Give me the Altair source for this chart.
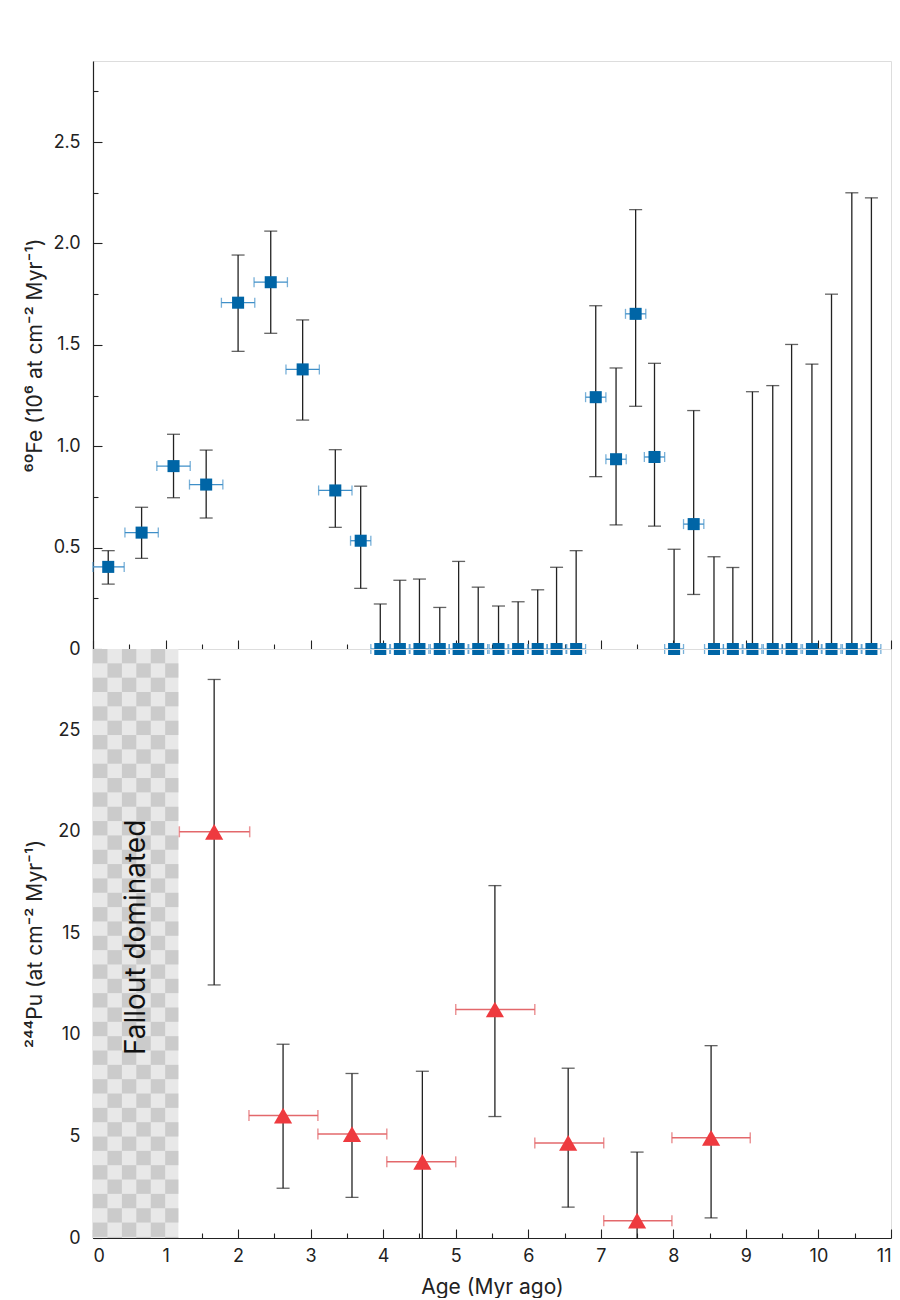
import altair as alt
import pandas as pd
import numpy as np

# ---------------- data: 60Fe (top panel) ----------------
fe_age = [0.21, 0.67, 1.11, 1.56, 2.00, 2.45, 2.89, 3.34, 3.69,
          3.96, 4.23, 4.50, 4.78, 5.04, 5.31, 5.59, 5.86, 6.13, 6.39, 6.66,
          6.93, 7.21, 7.48, 7.74, 8.01, 8.28,
          8.56, 8.82, 9.09, 9.37, 9.63, 9.91, 10.18, 10.46, 10.73]
fe_val = [0.405, 0.574, 0.902, 0.811, 1.708, 1.809, 1.379, 0.782, 0.534,
          0, 0, 0, 0, 0, 0, 0, 0, 0, 0, 0,
          1.242, 0.936, 1.653, 0.947, 0, 0.616,
          0, 0, 0, 0, 0, 0, 0, 0, 0]
fe_lo = [0.320, 0.447, 0.746, 0.646, 1.468, 1.557, 1.129, 0.600, 0.299,
         0, 0, 0, 0, 0, 0, 0, 0, 0, 0, 0,
         0.850, 0.612, 1.197, 0.606, 0, 0.269,
         0, 0, 0, 0, 0, 0, 0, 0, 0]
fe_hi = [0.485, 0.699, 1.059, 0.981, 1.943, 2.061, 1.623, 0.983, 0.803,
         0.222, 0.339, 0.345, 0.205, 0.432, 0.305, 0.212, 0.233, 0.292, 0.403, 0.485,
         1.693, 1.386, 2.167, 1.409, 0.492, 1.176,
         0.455, 0.402, 1.269, 1.299, 1.502, 1.405, 1.750, 2.250, 2.225]
fe_xerr = [0.22, 0.23, 0.23, 0.23, 0.23, 0.23, 0.23, 0.23, 0.14,
           0.13, 0.13, 0.13, 0.13, 0.13, 0.13, 0.13, 0.13, 0.13, 0.13, 0.13,
           0.14, 0.14, 0.14, 0.14, 0.13, 0.14,
           0.13, 0.13, 0.13, 0.13, 0.13, 0.13, 0.13, 0.13, 0.13]

# ---------------- data: 244Pu (bottom panel) ----------------
pu_age = [1.67, 2.62, 3.57, 4.54, 5.54, 6.55, 7.50, 8.52]
pu_val = [20.0, 6.03, 5.12, 3.75, 11.25, 4.68, 0.85, 4.93]
pu_lo = [12.46, 2.45, 2.00, 0.00, 5.98, 1.52, 0.00, 0.99]
pu_hi = [27.5, 9.54, 8.10, 8.21, 17.35, 8.36, 4.23, 9.47]
pu_xlo = [1.19, 2.15, 3.10, 4.05, 5.00, 6.09, 7.04, 7.98]
pu_xhi = [2.16, 3.10, 4.05, 5.00, 6.09, 7.04, 7.98, 9.06]

# axis tick values
x_ticks = [i * 0.5 for i in range(23)]
fe_yticks = [i * 0.25 for i in range(12)]
pu_yticks = [i * 2.5 for i in range(12)]

fallout_end = 1.177
fallout_label = "Fallout dominated"

FONT = "Inter"
BLUE = "#0065a6"
LBLUE = "#3f8fc8"
RED = "#ee3a3f"
LRED = "#e3686b"
INK = "#222222"

W, H_TOP, H_BOT = 798, 588, 589
X_MAX, FE_MAX, PU_MAX = 11, 2.9, 29.0

fe = pd.DataFrame({"age": fe_age, "val": fe_val, "lo": fe_lo, "hi": fe_hi, "xerr": fe_xerr})
fe["xlo"] = (fe["age"] - fe["xerr"]).clip(lower=0)
fe["xhi"] = fe["age"] + fe["xerr"]
pu = pd.DataFrame({"age": pu_age, "val": pu_val, "lo": pu_lo, "hi": pu_hi,
                   "xlo": pu_xlo, "xhi": pu_xhi})

xscale = alt.Scale(domain=[0, X_MAX], nice=False, zero=False)
fe_scale = alt.Scale(domain=[0, FE_MAX], nice=False)
pu_scale = alt.Scale(domain=[0, PU_MAX], nice=False)

def tsize(step):
    return {"condition": {"test": f"abs(datum.value/{step} - round(datum.value/{step})) < 1e-6",
                          "value": -9}, "value": -5}

common_axis = dict(grid=False, domainColor=INK, domainWidth=1.2, tickColor=INK, tickWidth=1.1,
                   labelFont=FONT, labelFontSize=18, labelColor=INK,
                   titleFont=FONT, titleFontSize=21, titleFontWeight="normal", titleColor=INK)

x_top_axis = alt.Axis(values=x_ticks, labels=False, title=None, tickSize=tsize(1), **common_axis)
x_bot_axis = alt.Axis(values=x_ticks, title="Age (Myr ago)", tickSize=tsize(1),
                      labelExpr="datum.value % 1 == 0 ? datum.value : ''",
                      labelPadding=18, titleY=49, titleBaseline="middle", **common_axis)
fe_axis = alt.Axis(values=fe_yticks, tickSize=tsize(0.5), title="⁶⁰Fe (10⁶ at cm⁻² Myr⁻¹)",
                   labelExpr="datum.value == 0 ? '0' : (abs(datum.value*2 - round(datum.value*2)) < 1e-6 ? format(datum.value, '.1f') : '')",
                   labelPadding=22, titleX=-58, titleY=H_TOP / 2, titleBaseline="middle",
                   titleAngle=270, **common_axis)
pu_axis = alt.Axis(values=pu_yticks, tickSize=tsize(5), title="²⁴⁴Pu (at cm⁻² Myr⁻¹)",
                   labelExpr="datum.value % 5 == 0 ? datum.value : ''",
                   labelPadding=22, titleX=-58, titleY=H_BOT / 2, titleBaseline="middle",
                   titleAngle=270, **common_axis)

# ---------------- top panel ----------------
fb = alt.Chart(fe)
X = lambda f: alt.X(f"{f}:Q", scale=xscale, axis=x_top_axis)
Yf = lambda f: alt.Y(f"{f}:Q", scale=fe_scale, axis=fe_axis)

top = alt.layer(
    fb.mark_rule(color=LBLUE, strokeWidth=1.3).encode(x=X("xlo"), x2="xhi", y=Yf("val")),
    fb.mark_tick(orient="vertical", color=LBLUE, size=10, thickness=1.3).encode(x=X("xlo"), y=Yf("val")),
    fb.mark_tick(orient="vertical", color=LBLUE, size=10, thickness=1.3).encode(x=X("xhi"), y=Yf("val")),
    fb.mark_rule(color=INK, strokeWidth=1.3).encode(x=X("age"), y=Yf("lo"), y2="hi"),
    fb.mark_tick(orient="horizontal", color=INK, size=13, thickness=1.3).encode(x=X("age"), y=Yf("hi")),
    fb.transform_filter("datum.val > 0").mark_tick(orient="horizontal", color=INK, size=13, thickness=1.3).encode(x=X("age"), y=Yf("lo")),
    fb.mark_point(shape="square", filled=True, size=145, color=BLUE, opacity=1).encode(x=X("age"), y=Yf("val")),
).properties(width=W, height=H_TOP)

# ---------------- bottom panel ----------------
# checkerboard pattern for the fallout-dominated band
cw, ch = 0.199, 0.706
cells = []
nx = int(np.ceil(fallout_end / cw))
ny = int(np.ceil(PU_MAX / ch))
for i in range(nx):
    for j in range(ny):
        if (i + j) % 2 == 0:
            cells.append({"x": i * cw, "x2": min((i + 1) * cw, fallout_end),
                          "y": PU_MAX - j * ch, "y2": max(PU_MAX - (j + 1) * ch, 0)})
cells = pd.DataFrame(cells)
band = pd.DataFrame({"x": [0], "x2": [fallout_end], "y": [0], "y2": [PU_MAX]})
lab = pd.DataFrame({"x": [fallout_end / 2 + 0.02], "y": [14.8], "t": [fallout_label]})

Xb = lambda f: alt.X(f"{f}:Q", scale=xscale, axis=x_bot_axis)
Yp = lambda f: alt.Y(f"{f}:Q", scale=pu_scale, axis=pu_axis)
pb = alt.Chart(pu)

bot = alt.layer(
    alt.Chart(band).mark_rect(color="#e8e8e8").encode(x=Xb("x"), x2="x2", y=Yp("y"), y2="y2"),
    alt.Chart(cells).mark_rect(color="#cbcbcb").encode(x=Xb("x"), x2="x2", y=Yp("y"), y2="y2"),
    alt.Chart(lab).mark_text(angle=270, font=FONT, fontSize=28, color="#111111").encode(
        x=Xb("x"), y=Yp("y"), text="t:N"),
    pb.mark_rule(color=LRED, strokeWidth=1.5).encode(x=Xb("xlo"), x2="xhi", y=Yp("val")),
    pb.mark_tick(orient="vertical", color=LRED, size=11, thickness=1.5).encode(x=Xb("xlo"), y=Yp("val")),
    pb.mark_tick(orient="vertical", color=LRED, size=11, thickness=1.5).encode(x=Xb("xhi"), y=Yp("val")),
    pb.mark_rule(color=INK, strokeWidth=1.3).encode(x=Xb("age"), y=Yp("lo"), y2="hi"),
    pb.mark_tick(orient="horizontal", color=INK, size=13, thickness=1.3).encode(x=Xb("age"), y=Yp("hi")),
    pb.transform_filter("datum.lo > 0").mark_tick(orient="horizontal", color=INK, size=13, thickness=1.3).encode(x=Xb("age"), y=Yp("lo")),
    pb.mark_point(shape="triangle-up", filled=True, size=330, color=RED, opacity=1).encode(x=Xb("age"), y=Yp("val")),
).properties(width=W, height=H_BOT)

chart = alt.vconcat(top, bot, spacing=0, bounds="flush").properties(
    padding={"left": 23, "top": 60, "right": 5, "bottom": 0},
).configure_view(stroke="#333333", strokeWidth=1.2).configure(background="white")

chart.save("out.html", embed_options={"renderer": "svg", "actions": False})
